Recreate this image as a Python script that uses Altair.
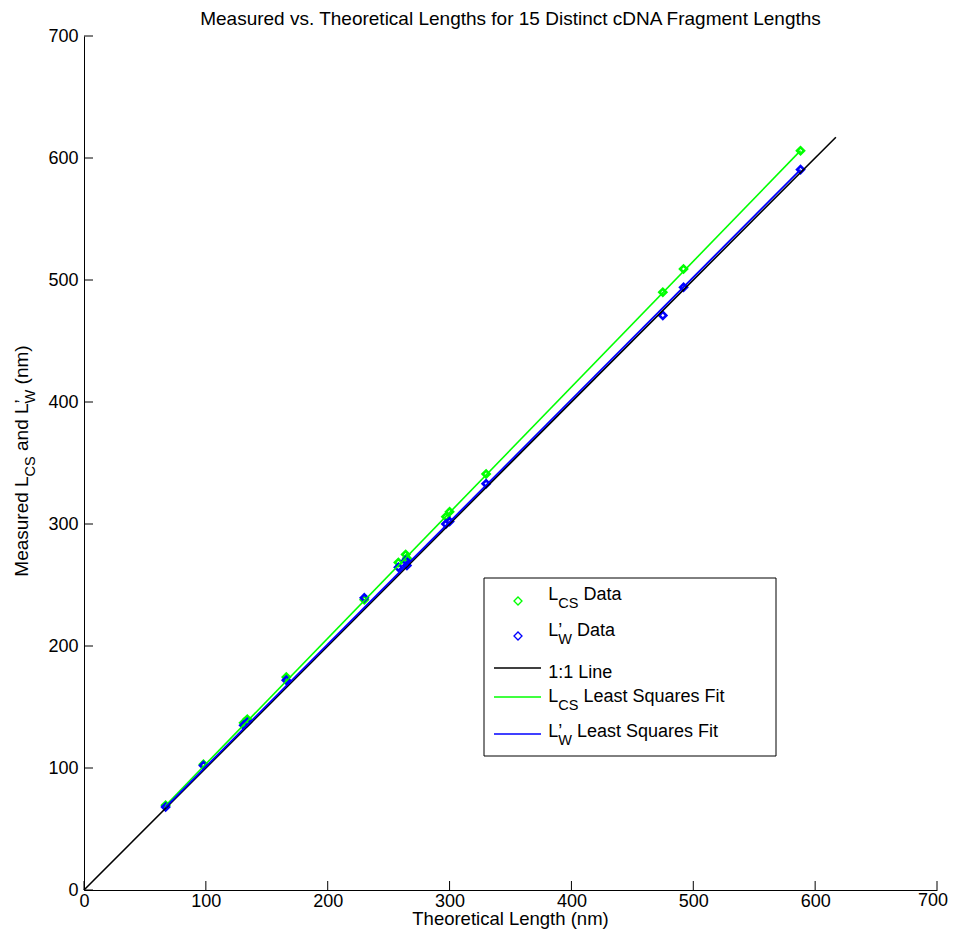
import altair as alt
import pandas as pd

# ---- data ----
theoretical = [67, 98, 131, 134, 166, 230, 258, 264, 265, 297, 300, 330, 475, 492, 588]
l_cs = [69.5, 103, 137, 140, 174.5, 238, 268.5, 275, 272, 306, 310, 341, 490, 509, 606]
l_w = [68, 102, 135, 137.5, 172, 239.5, 264.5, 270, 266, 300, 302, 333, 471, 494, 590.5]

identity_x = [0, 617]
identity_y = [0, 617]
fit_cs_x = [67, 588]
fit_cs_y = [69.3, 606]
fit_w_x = [67, 588]
fit_w_y = [68, 590.5]
tick_values = [0, 100, 200, 300, 400, 500, 600, 700]

TITLE = "Measured vs. Theoretical Lengths for 15 Distinct cDNA Fragment Lengths"
X_TITLE = "Theoretical Length (nm)"
FONT = "Liberation Sans"
GREEN = "#00ff00"
BLUE = "#0000ff"
W, H = 853, 854

xs = alt.Scale(domain=[0, 700], nice=False, zero=False)
ys = alt.Scale(domain=[0, 700], nice=False, zero=False)

# last x label (700) is drawn separately so it is not clipped at the page edge
xaxis = alt.Axis(values=tick_values[:-1], ticks=False, grid=False, domainColor="black", domainWidth=1,
                 labelFontSize=18, labelFont=FONT, labelColor="black", labelPadding=2,
                 labelFlush=False, labelOverlap=False, title=None)
yaxis = alt.Axis(values=tick_values, ticks=False, grid=False, domainColor="black", domainWidth=1,
                 labelFontSize=18, labelFont=FONT, labelColor="black", labelPadding=6,
                 labelFlush=False, labelOverlap=False, title=None)

X = alt.X("x:Q", scale=xs, axis=xaxis)
Y = alt.Y("y:Q", scale=ys, axis=yaxis)

cs_df = pd.DataFrame({"x": theoretical, "y": l_cs})
w_df = pd.DataFrame({"x": theoretical, "y": l_w})
id_df = pd.DataFrame({"x": identity_x, "y": identity_y})
fcs_df = pd.DataFrame({"x": fit_cs_x, "y": fit_cs_y})
fw_df = pd.DataFrame({"x": fit_w_x, "y": fit_w_y})
tick_df = pd.DataFrame({"x": tick_values, "y": tick_values})
dummy = pd.DataFrame({"a": [0]})

layers = []
layers.append(alt.Chart(cs_df).mark_point(shape="diamond", filled=False, color=GREEN, size=48,
                                          strokeWidth=2.6, opacity=1).encode(x=X, y=Y))
layers.append(alt.Chart(w_df).mark_point(shape="diamond", filled=False, color=BLUE, size=48,
                                         strokeWidth=2.6, opacity=1).encode(x=X, y=Y))
layers.append(alt.Chart(id_df).mark_line(color="black", strokeWidth=1.6).encode(x=X, y=Y))
layers.append(alt.Chart(fcs_df).mark_line(color=GREEN, strokeWidth=1.6).encode(x=X, y=Y))
layers.append(alt.Chart(fw_df).mark_line(color=BLUE, strokeWidth=1.8).encode(x=X, y=Y))

# inward ticks
layers.append(alt.Chart(tick_df).mark_rule(color="black", strokeWidth=1).encode(
    x=X, y=alt.value(H), y2=alt.value(H - 9)))
layers.append(alt.Chart(tick_df).mark_rule(color="black", strokeWidth=1).encode(
    y=Y, x=alt.value(0), x2=alt.value(9)))

# ---- text helpers (Arial/Liberation metrics) ----
ADV = {'M': 833, 'e': 556, 'a': 556, 's': 500, 'u': 556, 'r': 333, 'd': 556, ' ': 278,
       'L': 556, 'C': 722, 'S': 667, 'n': 556, '\u2019': 222, 'W': 944, '(': 333,
       'm': 833, ')': 333, 'D': 722, 't': 278, 'q': 556, 'F': 611, 'i': 222, '1': 556, ':': 278}


def tw(s, fs):
    return sum(ADV.get(c, 556) for c in s) * fs / 1000.0


def txt(s, x, y, fs, angle=0, align="left", baseline="alphabetic"):
    kw = dict(text=s, fontSize=fs, font=FONT, align=align, baseline=baseline, color="black")
    if angle:
        kw["angle"] = angle
    return alt.Chart(dummy).mark_text(**kw).encode(x=alt.value(x), y=alt.value(y))


def piece(s, x, y, fs, angle=0):
    """draw s with leading spaces converted to an offset (SVG collapses them)"""
    lead = len(s) - len(s.lstrip(" "))
    off = tw(" " * lead, fs)
    core = s.strip(" ")
    if not core:
        return None
    if angle == 270:
        return txt(core, x, y - off, fs, angle=270)
    return txt(core, x + off, y, fs)


FS_L = 18
FS_S = 14.5


def legend_label(parts, x0, base, sub_dy=8):
    out = []
    x = x0
    for s, kind in parts:
        if kind == "n":
            out.append(piece(s, x, base, FS_L))
            x += tw(s, FS_L)
        elif kind == "s":
            out.append(piece(s, x, base + sub_dy, FS_S))
            x += tw(s, FS_S)
        elif kind == "p":
            out.append(piece(s, x, base, FS_L))
    return [o for o in out if o is not None]


# legend box
layers.append(alt.Chart(dummy).mark_rect(fill="white", stroke="black", strokeWidth=1).encode(
    x=alt.value(400), x2=alt.value(692), y=alt.value(542), y2=alt.value(720)))
layers.append(alt.Chart(dummy).mark_point(shape="diamond", filled=False, color=GREEN, size=64,
                                          strokeWidth=1.3, opacity=1).encode(x=alt.value(434), y=alt.value(565)))
layers.append(alt.Chart(dummy).mark_point(shape="diamond", filled=False, color=BLUE, size=64,
                                          strokeWidth=1.3, opacity=1).encode(x=alt.value(434), y=alt.value(600)))
for col, yy in [("black", 632), (GREEN, 661), (BLUE, 698)]:
    layers.append(alt.Chart(dummy).mark_rule(color=col, strokeWidth=1.6).encode(
        x=alt.value(410), x2=alt.value(457), y=alt.value(yy)))

LX = 464.3
layers += legend_label([("L", "n"), ("CS", "s"), (" Data", "n")], LX, 564)
layers += legend_label([("L", "n"), ("\u2019", "p"), ("W", "s"), (" Data", "n")], LX, 599.5)
layers += legend_label([("1:1 Line", "n")], LX, 642)
layers += legend_label([("L", "n"), ("CS", "s"), (" Least Squares Fit", "n")], LX, 665.5)
layers += legend_label([("L", "n"), ("\u2019", "p"), ("W", "s"), (" Least Squares Fit", "n")], LX, 700.5)

# rotated y-axis title with subscripts
FS_T = 19
FS_TS = 14.5
ypos = 540.7
BX = -56
for s, kind in [("Measured ", "n"), ("L", "n"), ("CS", "s"), (" and ", "n"), ("L", "n"),
                ("\u2019", "p"), ("W", "s"), (" (nm)", "n")]:
    if kind == "n":
        p = piece(s, BX, ypos, FS_T, angle=270)
        ypos -= tw(s, FS_T)
    elif kind == "s":
        p = piece(s, BX + 7, ypos, FS_TS, angle=270)
        ypos -= tw(s, FS_TS)
    else:
        p = piece(s, BX, ypos, FS_T, angle=270)
    if p is not None:
        layers.append(p)

# chart title, x-axis title and last x tick label as text
layers.append(txt(TITLE, W / 2, -11, 19, align="center"))
layers.append(txt(X_TITLE, W / 2, 888.5, 18.5, align="center"))
layers.append(txt(str(tick_values[-1]), W + 11, H + 2, 18, align="right", baseline="top"))

chart = alt.layer(*layers).properties(
    width=W, height=H,
    autosize=alt.AutoSizeParams(type="none"),
    padding={"left": 76, "top": 28, "right": 11, "bottom": 40},
    background="white",
).configure_view(stroke=None)

chart.save("out.html", embed_options={"renderer": "svg", "actions": False})
